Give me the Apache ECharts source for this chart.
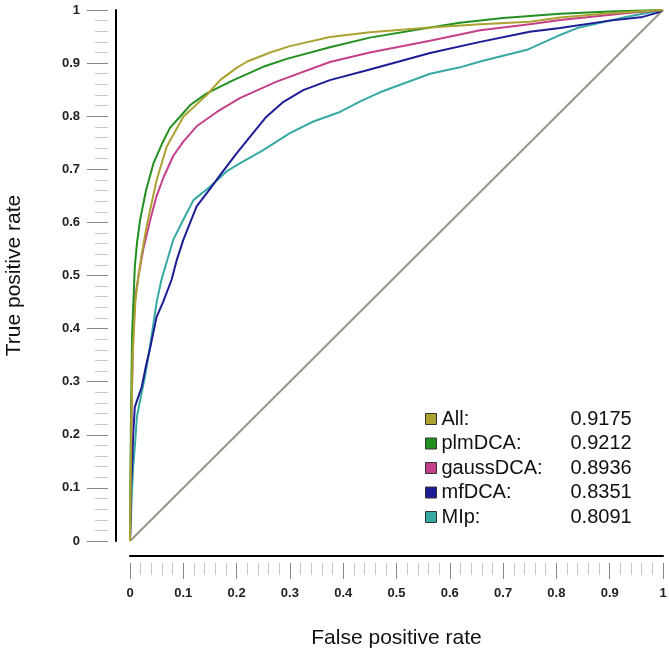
<!DOCTYPE html>
<html>
<head>
<meta charset="utf-8">
<script src="https://cdn.jsdelivr.net/npm/echarts@6/dist/echarts.min.js"></script>
<style>
html,body{margin:0;padding:0;background:#fff;}
#chart{width:669px;height:652px;}
</style>
</head>
<body>
<div id="chart"></div>
<script>
// Series names and AUC values
var seriesNames = ['All', 'plmDCA', 'gaussDCA', 'mfDCA', 'MIp'];
var aucValues = ['0.9175', '0.9212', '0.8936', '0.8351', '0.8091'];
var tickLabels = ['0', '0.1', '0.2', '0.3', '0.4', '0.5', '0.6', '0.7', '0.8', '0.9', '1'];

// ROC points [false positive rate, true positive rate]
var rocAll = [[0,0],[0.002,0.2],[0.005,0.35],[0.01,0.45],[0.016,0.5],[0.022,0.54],[0.031,0.592],[0.05,0.68],[0.069,0.743],[0.1,0.799],[0.144,0.84],[0.169,0.868],[0.2,0.891],[0.22,0.903],[0.263,0.92],[0.3,0.932],[0.375,0.949],[0.45,0.958],[0.563,0.967],[0.657,0.973],[0.75,0.978],[0.807,0.986],[0.9,0.994],[1,1]];
var rocPlm = [[0,0],[0.001,0.14],[0.002,0.25],[0.004,0.39],[0.009,0.516],[0.013,0.56],[0.019,0.605],[0.03,0.66],[0.044,0.711],[0.06,0.748],[0.075,0.778],[0.1,0.806],[0.113,0.821],[0.144,0.843],[0.194,0.868],[0.25,0.893],[0.294,0.908],[0.375,0.93],[0.45,0.948],[0.563,0.967],[0.619,0.976],[0.7,0.985],[0.807,0.993],[0.9,0.997],[1,1]];
var rocGauss = [[0,0],[0.002,0.15],[0.004,0.3],[0.006,0.39],[0.01,0.46],[0.016,0.5],[0.025,0.55],[0.038,0.605],[0.05,0.65],[0.063,0.685],[0.081,0.725],[0.1,0.752],[0.125,0.781],[0.163,0.808],[0.206,0.834],[0.275,0.865],[0.375,0.902],[0.45,0.92],[0.563,0.942],[0.657,0.962],[0.75,0.973],[0.807,0.981],[0.93,0.994],[1,1]];
var rocMf = [[0,0],[0.001,0.05],[0.002,0.1],[0.004,0.14],[0.006,0.2],[0.009,0.252],[0.015,0.27],[0.022,0.29],[0.03,0.33],[0.037,0.36],[0.05,0.422],[0.062,0.45],[0.078,0.492],[0.088,0.53],[0.1,0.567],[0.125,0.63],[0.153,0.667],[0.169,0.689],[0.2,0.73],[0.225,0.761],[0.256,0.799],[0.288,0.827],[0.325,0.849],[0.375,0.868],[0.45,0.888],[0.563,0.919],[0.657,0.94],[0.75,0.959],[0.807,0.966],[0.9,0.98],[0.962,0.987],[0.99,0.995],[1,1]];
var rocMip = [[0,0],[0.002,0.05],[0.004,0.1],[0.006,0.14],[0.01,0.19],[0.013,0.234],[0.02,0.27],[0.028,0.309],[0.035,0.35],[0.043,0.403],[0.05,0.45],[0.059,0.492],[0.081,0.567],[0.1,0.605],[0.119,0.642],[0.15,0.667],[0.181,0.696],[0.206,0.711],[0.25,0.736],[0.3,0.768],[0.344,0.79],[0.394,0.808],[0.432,0.828],[0.469,0.845],[0.563,0.88],[0.619,0.892],[0.657,0.903],[0.745,0.925],[0.8,0.95],[0.839,0.966],[0.93,0.987],[1,1]];
var diagonal = [[0,0],[1,1]];

var colors = ['#aca232', '#22901f', '#c4418a', '#1c1c96', '#36aaa2'];
var rocData = [rocAll, rocPlm, rocGauss, rocMf, rocMip];

var font = 'Liberation Sans, Arial, Helvetica, sans-serif';
var chart = echarts.init(document.getElementById('chart'), null, {renderer: 'canvas'});

var series = [{
  type: 'line', name: 'diag', data: diagonal, symbol: 'none', silent: true,
  lineStyle: {color: '#9a948a', width: 2}, xAxisIndex: 0, yAxisIndex: 0, z: 1
}];
seriesNames.forEach(function (n, i) {
  series.push({
    type: 'line', name: n, data: rocData[i], symbol: 'none',
    lineStyle: {color: colors[i], width: 2, join: 'round'}, itemStyle: {color: colors[i], borderColor: '#333', borderWidth: 1},
    xAxisIndex: 0, yAxisIndex: 0, z: 2 + (seriesNames.length - i)
  });
});

var aucMap = {};
seriesNames.forEach(function (n, i) { aucMap[n] = aucValues[i]; });

function hiddenAxis() {
  return {type: 'value', min: 0, max: 1, interval: 0.1, gridIndex: 0,
    axisLine: {show: false, onZero: false}, axisTick: {show: false}, axisLabel: {show: false}, splitLine: {show: false}};
}

var option = {
  backgroundColor: '#fff',
  animation: false,
  grid: {left: 130, right: 6, top: 10, bottom: 111, containLabel: false, outerBoundsMode: 'none'},
  legend: {
    data: seriesNames, orient: 'vertical', left: 425, top: 409, padding: 0,
    icon: 'rect', itemWidth: 11, itemHeight: 11, itemGap: 4.5,
    itemStyle: {borderColor: '#333', borderWidth: 1},
    selectedMode: false,
    textStyle: {fontFamily: font, fontSize: 20, color: '#111',
      rich: {n: {width: 129, fontSize: 20, fontFamily: font, color: '#111'}, v: {fontSize: 20, fontFamily: font, color: '#111'}}},
    formatter: function (name) { return '{n|' + name + ':}{v|' + aucMap[name] + '}'; }
  },
  xAxis: [
    hiddenAxis(),
    Object.assign(hiddenAxis(), {position: 'bottom', offset: 15,
      axisLine: {show: true, onZero: false, lineStyle: {color: '#000', width: 2}}}),
    Object.assign(hiddenAxis(), {position: 'bottom', offset: 22,
      name: 'False positive rate', nameLocation: 'middle', nameGap: 65,
      nameTextStyle: {fontFamily: font, fontSize: 21, color: '#111'},
      axisTick: {show: true, length: 16, lineStyle: {color: '#888', width: 1}},
      minorTick: {show: true, splitNumber: 5, length: 12, lineStyle: {color: '#c8c8c8', width: 1}},
      axisLabel: {show: true, margin: 24, fontFamily: font, fontSize: 13, fontWeight: 'bold', color: '#222',
        formatter: function (v) { return tickLabels[Math.round(v * 10)]; }}})
  ],
  yAxis: [
    hiddenAxis(),
    Object.assign(hiddenAxis(), {position: 'left', offset: 14,
      axisLine: {show: true, onZero: false, lineStyle: {color: '#000', width: 2}}}),
    Object.assign(hiddenAxis(), {position: 'left', offset: 22,
      name: 'True positive rate', nameLocation: 'middle', nameGap: 83, nameRotate: 90,
      nameTextStyle: {fontFamily: font, fontSize: 21, color: '#111'},
      axisTick: {show: true, length: 21, lineStyle: {color: '#888', width: 1}},
      minorTick: {show: true, splitNumber: 5, length: 13, lineStyle: {color: '#c8c8c8', width: 1}},
      axisLabel: {show: true, margin: 28, fontFamily: font, fontSize: 13, fontWeight: 'bold', color: '#222',
        formatter: function (v) { return tickLabels[Math.round(v * 10)]; }}})
  ],
  series: series
};
chart.setOption(option);
</script>
</body>
</html>
